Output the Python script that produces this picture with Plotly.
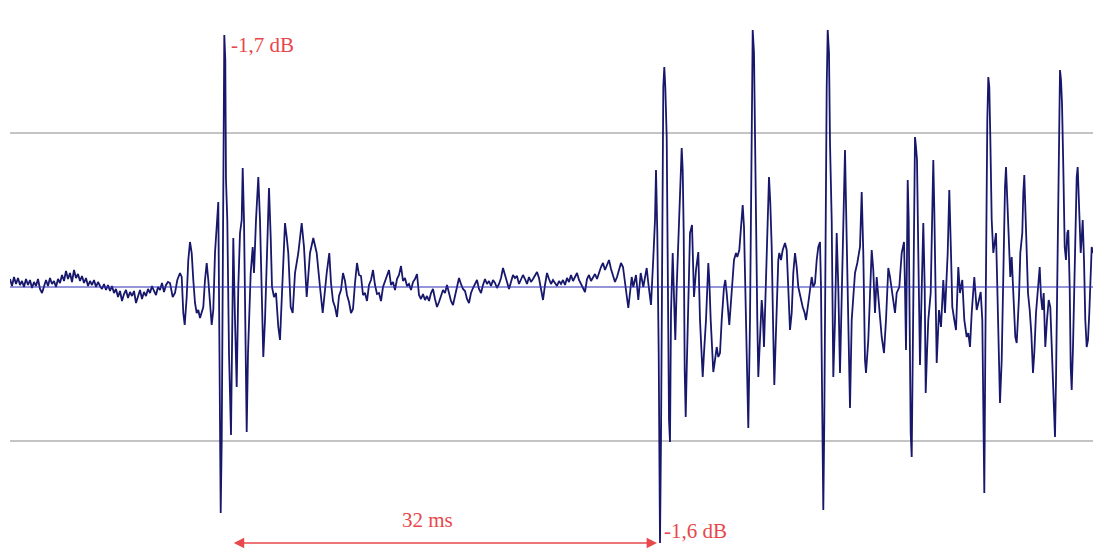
import numpy as np
import plotly.graph_objects as go

# ---------------- data ----------------
# Waveform. Positions are sample numbers on a
# decimated 13.6 kHz grid (13.6 samples per ms); amplitudes are in counts
# (reference grid lines sit at +/-154 counts).
SAMPLES_PER_MS = 13.6
VIEW_START, VIEW_END = 10, 1093          # visible sample window
GRID_LEVEL = 154                          # grid line amplitude (counts)

# quiet noise before first impulse (uniform, every 2 samples from 10)
NOISE_A_START = 10
noise_a = [8, 1, 10, 3, 9, 2, 6, 0, 8, 2,
           7, -1, 5, 1, 8, -2, -6, 2, 7, 1,
           9, 3, 6, 0, 8, 4, 12, 6, 16, 8,
           14, 5, 17, 9, 13, 6, 11, 4, 9, 1,
           6, 2, 7, 0, 5, 1, -2, 3, -3, 2,
           -4, 1, -6, -2, -10, -4, -14, -7, -3, -11,
           -5, -9, -4, -16, -8, -3, -12, -5, -9, -2,
           -6, 1, -4, -8, 0, -3, 4, -5, 2, 5]

# first impulse response (turning points: sample, amplitude)
burst_a = [(170, 4), (172.7, -10), (175, -6), (177.3, 7), (180, 14), (181.7, 10),
           (183.3, -26), (184.7, -38), (186.7, -10), (188.3, 27), (190, 45), (191.7, 34),
           (193.3, 7), (195, -16), (196.7, -26), (198.3, -23), (200, -31), (201.7, -26),
           (203.3, -20), (205, 7), (206.7, 24), (208.3, 7), (210, -20), (211.7, -38),
           (213.3, -23), (215, 34), (218.3, 85), (220.7, -226), (221.7, -155), (223.3, 167),
           (224.3, 252), (225.3, 227), (226, 107), (227.3, 67), (229, -66), (231, -148),
           (232.3, -33), (233.3, 49), (235, -33), (236.7, -100), (238.3, 0), (240, 54),
           (241.7, 67), (242.7, 119), (244, 67), (245.3, -33), (246.7, -145), (248, -66),
           (249.3, -23), (250.7, 14), (252.7, 40), (254, 14), (256, 67), (258.3, 110),
           (260, 67), (261.7, 0), (263.3, -70), (265, -33), (266.7, 27), (269, 99),
           (270.7, 50), (272, 0), (274, -10), (276, -6), (278.3, -40), (280, -53),
           (282, -6), (283.3, 34), (285, 64), (286.7, 50), (288.3, 34), (290.7, -20),
           (292.7, -26), (295, 14), (298.3, 34), (301.7, 64), (304, 40), (306.7, -10),
           (310, 34), (313.3, 49), (316.7, 34), (320, 0), (322.7, -26), (326.7, 14),
           (329.3, 34)]

# quiet noise between the impulses (uniform, every 2 samples from 331)
NOISE_B_START = 331
noise_b = [4, -14, -20, -30, -9, -3, 14, 6, -8, -15,
           -26, -22, 4, 24, 12, 11, -8, -6, -14, 2,
           7, 17, 2, -7, -6, -14, 0, 6, 10, 17,
           2, 5, -3, 8, 12, 21, 6, 9, 1, 3,
           -3, 5, 8, 13, -8, -12, -7, -13, -9, -14,
           -6, -2, -12, -20, -15, -8, -3, -6, 2, -6,
           -14, -18, -10, -2, 9, 3, -2, -4, -12, -16,
           -6, -1, 4, 7, -2, -6, 2, 8, 3, 6,
           1, 7, 4, -1, 3, 9, 19, 13, 5, -2,
           6, 12, 9, 11, 3, 7, 12, 8, 3, 10,
           5, 8, 12, 15, 9, -4, -13, 2, 14, 8,
           3, 7, 4, 1, 6, 3, 7, 2, 9, 5,
           12, 6, 10, 14, 7, 3, -2, -5, 8, 12,
           6, 10, 13, 8, 15, 20, 24, 17, 22, 27,
           18, 12, 5, 10, 18, 24, 20, 6, -12]

# second impulse and following reflections (turning points)
burst_b = [(628.3, -21), (630, -6), (631.7, 10), (633.3, 0), (636, 12), (638.3, -13),
           (640.7, 14), (643.3, 0), (645, 10), (646.7, 19), (648.3, 4), (650, -10),
           (651, -18), (653.3, 29), (655, 67), (656, 117), (657.3, 54), (658.7, -66),
           (659.3, -148), (660, -256), (661, -150), (662.3, 67), (663.3, 200), (664.3, 220),
           (665.3, 200), (666.7, 150), (667.7, -6), (669, -133), (670, -155), (671, -26),
           (672.7, 34), (674, -16), (675.3, -53), (676.7, 0), (678.3, 50), (680, 100),
           (681.7, 139), (682.7, 117), (683.7, 54), (684.7, -83), (685.7, -130), (686.7, -83),
           (687.7, -33), (690, 54), (692, 62), (693, 34), (694, -10), (696, 17),
           (698.3, 35), (700, -33), (701.3, -60), (702.7, -90), (704, -66), (706, -33),
           (708.3, 24), (709.3, 7), (710.7, -33), (712, -66), (713.3, -85), (715, -73),
           (716.7, -60), (718.3, -70), (720, -66), (721.7, -33), (724, 0), (725.3, 7),
           (726.7, -6), (729.3, -38), (731.7, -6), (734, 27), (736, 34), (737.3, 30),
           (739.3, 37), (741, 60), (742.7, 82), (744, 60), (745.3, 0), (746.7, -66),
           (748.3, -141), (750, -33), (751.3, 134), (752.7, 257), (754, 234), (755, 134),
           (756, 47), (757.3, -33), (758.3, -90), (760, -50), (761.7, -13), (762.7, -26),
           (764, -60), (765.3, -16), (766.7, 37), (768, 94), (769, 110), (770.3, 84),
           (771.7, 40), (773, -33), (774.3, -98), (775.3, -66), (776.7, -16), (778.3, 27),
           (779.3, 34)]

burst_c = [(781, 27), (782.7, 37), (785, 44), (786.7, 37), (788.3, 0), (790, -43),
           (791.7, -26), (793.3, 14), (795, 34), (796.7, 20), (798.3, 0), (800.7, -13),
           (802.7, -20), (804.7, -26), (806, -33), (808.3, -16), (810, 0), (811.7, 10),
           (813.3, 0), (815, 4), (816.7, 27), (818.3, 40), (820, 45), (821, 0),
           (822, -100), (823.3, -223), (824.3, -133), (825.7, 94), (826.7, 200), (827.7, 257),
           (829, 234), (830, 144), (831.7, 67), (833.3, -90), (835, -33), (836.7, 54),
           (838.3, 0), (840, -86), (841.7, 0), (843.3, 67), (845, 137), (846.7, 47),
           (848.3, -33), (850, -121), (851.7, -33), (853.3, -10), (855, 14), (857.3, 24),
           (860, 40), (861.7, 95), (863.3, 34), (865, -73), (866, -86), (868.3, -53),
           (870, 0), (871.7, 37), (873.3, 17), (875, -26), (876.7, 10), (878.3, -6),
           (880, -30), (881.7, -50), (884, -66), (886, -33), (888.3, 19), (890, 10),
           (891.7, -3), (893.3, -16), (895, -26), (896.7, -6), (899.3, 0), (901.7, 34),
           (904, 45), (905, 0), (906, -63), (907, 34), (907.7, 107), (908.7, 67),
           (909.7, -66), (910.7, -146), (911.7, -170), (912.7, -66), (913.7, 67), (915, 150),
           (916, 140), (917, 127), (918.3, 34), (920, -78), (921.7, -3), (923.3, 64),
           (924.7, 0), (925.7, -106), (927, -66), (928.3, -33), (930.7, -6), (932, 67),
           (933.3, 127), (934.3, 77)]

burst_d = [(936.7, -76), (939, -23), (941, -40), (943.3, 7), (945, -26), (947.7, 34),
           (949.3, 97), (951, 34), (952.3, -20), (954.3, -33), (956, -43), (958.3, 20),
           (960, -6), (962.3, 7), (964.3, -33), (966.7, -50), (968.3, -46), (970, -60),
           (971.7, -26), (974.3, 10), (976.7, -23), (978.3, -16), (980.7, -5), (982.3, -33),
           (983.3, -143), (984.3, -206), (985.3, -66), (986.3, 80), (987.3, 167), (988.3, 210),
           (989.3, 200), (990.3, 150), (991.7, 67), (993.3, 34), (995, 50), (996, 54),
           (997.3, 0), (998.7, -66), (1000, -116), (1001.7, -73), (1003, 0), (1004, 63),
           (1005, 100), (1006, 120), (1007, 94), (1008, 60), (1009, 27), (1010.3, 10),
           (1011.7, 30), (1013, 0), (1014, -33), (1015.3, -50), (1016.7, -56), (1018, -33),
           (1019, -10), (1020.3, 34), (1021.3, 44), (1022.3, 54), (1023.3, 94), (1024.3, 112),
           (1025.3, 80), (1026.7, 34), (1028, -6), (1029.7, -23), (1031.3, -46), (1033, -86),
           (1034.3, -66), (1036, -26), (1037.7, 0), (1039.7, 20), (1041, -10), (1042.3, -23),
           (1043.7, -6), (1045.3, -60), (1047, -33), (1048.7, -13), (1050.3, -20), (1052, -66),
           (1053.7, -116), (1055, -150), (1056, -93), (1057.3, 0), (1058.7, 100), (1060, 217),
           (1061, 207), (1062, 184), (1063.3, 120), (1064.7, 40), (1066, 27), (1067.3, 54),
           (1068.3, 57), (1069.7, 0), (1070.7, -80), (1071.7, -103), (1073, -60), (1074.3, 0),
           (1075.7, 47), (1076.7, 110), (1077.7, 120), (1078.7, 94), (1079.7, 60), (1080.7, 34),
           (1082, 54), (1082.7, 67), (1084, 27), (1085.3, -33), (1086.7, -60), (1088, -53),
           (1089.3, -26), (1090.7, 20), (1091.7, 40), (1093, 34)]

# annotation values
first_peak_label = "-1,7 dB"
second_peak_label = "-1,6 dB"
interval_ms = 32

# ---------------- build series ----------------
pos = []
amp = []
pos += list(NOISE_A_START + 2 * np.arange(len(noise_a)))
amp += noise_a
for seg in (burst_a,):
    pos += [p for p, a in seg]
    amp += [a for p, a in seg]
pos += list(NOISE_B_START + 2 * np.arange(len(noise_b)))
amp += noise_b
for seg in (burst_b, burst_c, burst_d):
    pos += [p for p, a in seg]
    amp += [a for p, a in seg]

pos = np.array(pos, dtype=float)
amp = np.array(amp, dtype=float)
t_ms = pos / SAMPLES_PER_MS

# events: first impulse max (first half) and second impulse min
half = t_ms < (VIEW_START + VIEW_END) / 2 / SAMPLES_PER_MS
i_peak = np.argmax(np.where(half, amp, -1e9))
i_trough = np.argmin(np.where(~half, amp, 1e9))
t_peak, a_peak = t_ms[i_peak], amp[i_peak]
t_trough, a_trough = t_ms[i_trough], amp[i_trough]

RED = "#e8474c"
NAVY = "#17176b"
FONT = "Liberation Serif"

fig = go.Figure()
fig.add_trace(go.Scatter(x=t_ms, y=amp, mode="lines",
                         line=dict(color=NAVY, width=1.8),
                         hoverinfo="skip", showlegend=False))

# centre (zero) reference line drawn over the waveform
fig.add_hline(y=0, line=dict(color="#2c2cb6", width=1.2), layer="above")

fig.add_annotation(x=t_peak, y=a_peak, text=first_peak_label, showarrow=False,
                   xanchor="left", yanchor="top", xshift=5, yshift=4,
                   font=dict(family=FONT, size=21, color=RED))
fig.add_annotation(x=t_trough, y=a_trough, text=second_peak_label, showarrow=False,
                   xanchor="left", yanchor="bottom", xshift=2, yshift=-2,
                   font=dict(family=FONT, size=21, color=RED))
# double-headed interval arrow
fig.add_annotation(x=t_trough, y=a_trough, ax=t_peak, ay=a_trough,
                   xref="x", yref="y", axref="x", ayref="y", text="",
                   showarrow=True, arrowside="end+start", arrowhead=2,
                   arrowsize=1.3, arrowwidth=1.6, arrowcolor=RED,
                   standoff=3, startstandoff=8)
fig.add_annotation(x=(t_peak + t_trough) / 2, y=a_trough, text=f"{interval_ms} ms",
                   showarrow=False, xanchor="center", yanchor="bottom",
                   xshift=-15, yshift=9,
                   font=dict(family=FONT, size=21, color=RED))

W, H = 1093, 555
y_top = 287          # counts at top edge of figure
y_bot = -268         # counts at bottom edge
fig.update_layout(
    width=W, height=H,
    margin=dict(l=VIEW_START, r=0, t=0, b=0),
    paper_bgcolor="white", plot_bgcolor="white",
    xaxis=dict(range=[VIEW_START / SAMPLES_PER_MS, VIEW_END / SAMPLES_PER_MS],
               showgrid=False, zeroline=False, showticklabels=False,
               ticks="", showline=False, fixedrange=True),
    yaxis=dict(range=[y_bot, y_top], tickvals=[-GRID_LEVEL, GRID_LEVEL],
               showgrid=True, gridcolor="#c4c4c4", gridwidth=1.5,
               zeroline=False,
               showticklabels=False, ticks="", showline=False, fixedrange=True),
)

# remove the default page margin so the figure fills the window exactly
fig.write_html("out.html",
               config={"displayModeBar": False},
               post_script="document.body.style.margin='0';"
                           "document.body.style.overflow='hidden';")
